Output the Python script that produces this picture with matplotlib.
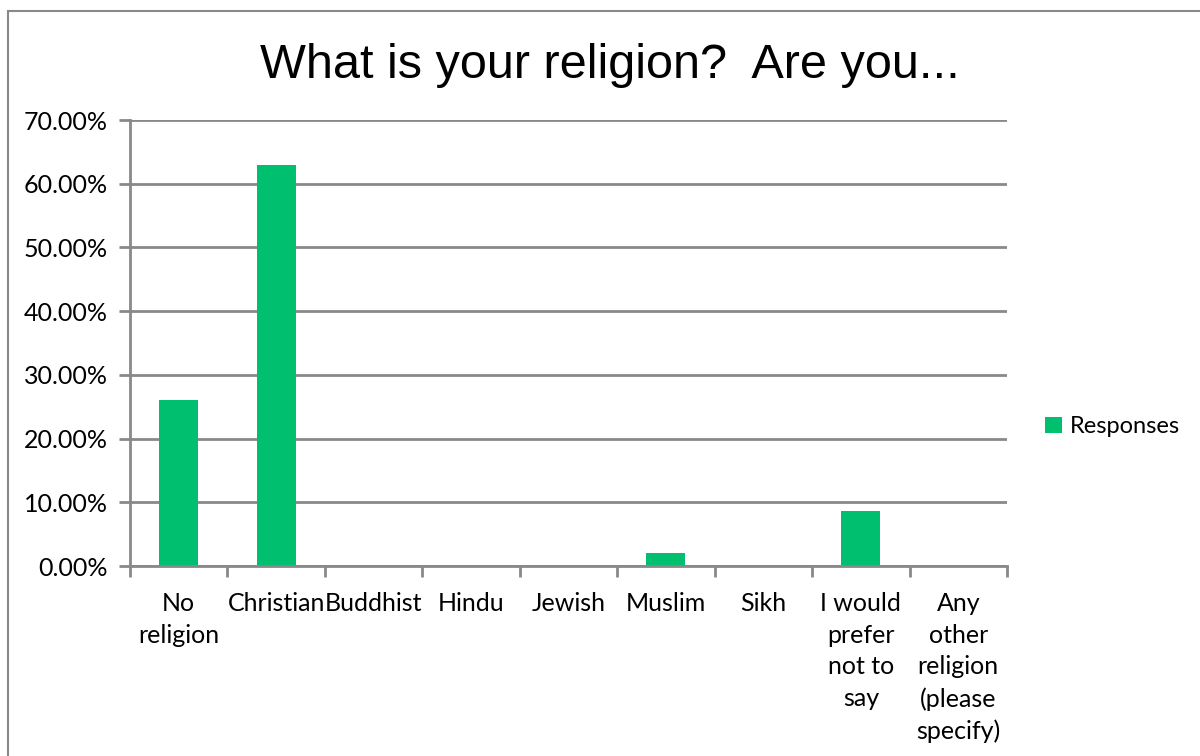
import matplotlib.pyplot as plt
import matplotlib.patches as mpatches
import numpy as np
from matplotlib.ticker import FuncFormatter, FixedLocator

categories = ["No\nreligion", "Christian", "Buddhist", "Hindu", "Jewish",
              "Muslim", "Sikh", "I would\nprefer\nnot to\nsay",
              "Any\nother\nreligion\n(please\nspecify)"]
responses = [26.1, 63.0, 0.0, 0.0, 0.0, 2.1, 0.0, 8.7, 0.0]

green = "#00BF6F"
grey = "#898989"
label_font = ["Lato", "DejaVu Sans"]

fig = plt.figure(figsize=(12, 7.56), dpi=100)
fig.patches.append(mpatches.Rectangle((8 / 1200, -0.1), 1.2, 1 - 11 / 756 + 0.1,
                                      transform=fig.transFigure, fill=False,
                                      edgecolor=grey, linewidth=1.5))

ax = fig.add_axes([130 / 1200, 1 - 566 / 756, 877 / 1200, 446 / 756])
x = np.arange(len(categories))
ax.bar(x, responses, width=0.4, color=green, zorder=3, label="Responses")

ax.set_xlim(-0.5, len(categories) - 0.5)
ax.set_ylim(0, 70)
ax.set_yticks(np.arange(0, 71, 10))
ax.yaxis.set_major_formatter(FuncFormatter(lambda v, p: f"{v:.2f}%"))
ax.grid(axis="y", color=grey, linewidth=2, zorder=0)

ax.set_xticks(x)
ax.set_xticklabels(categories, fontsize=18, family=label_font, linespacing=1.45,
                   va="top")
ax.xaxis.set_minor_locator(FixedLocator(np.arange(-0.5, len(categories), 1)))
ax.tick_params(axis="x", which="major", length=0, pad=19)
ax.tick_params(axis="x", which="minor", length=8, width=2, color=grey)
ax.tick_params(axis="y", length=8, width=2, color=grey, labelsize=18, pad=8)
for lbl in ax.get_yticklabels():
    lbl.set_family(label_font)

for side in ["top", "right"]:
    ax.spines[side].set_visible(False)
for side in ["left", "bottom"]:
    ax.spines[side].set_color(grey)
    ax.spines[side].set_linewidth(2)
    ax.spines[side].set_zorder(4)

fig.text(610 / 1200, 1 - 66 / 756, "What is your religion?  Are you...",
         ha="center", va="center", fontsize=35, family="Liberation Sans")

ax.legend(loc="center left", bbox_to_anchor=(1036 / 1200, 1 - 427 / 756),
          bbox_transform=fig.transFigure, frameon=False, handlelength=0.7,
          handleheight=0.7, handletextpad=0.35, borderaxespad=0,
          prop={"family": label_font, "size": 17})

fig.savefig("out.png", dpi=100)
